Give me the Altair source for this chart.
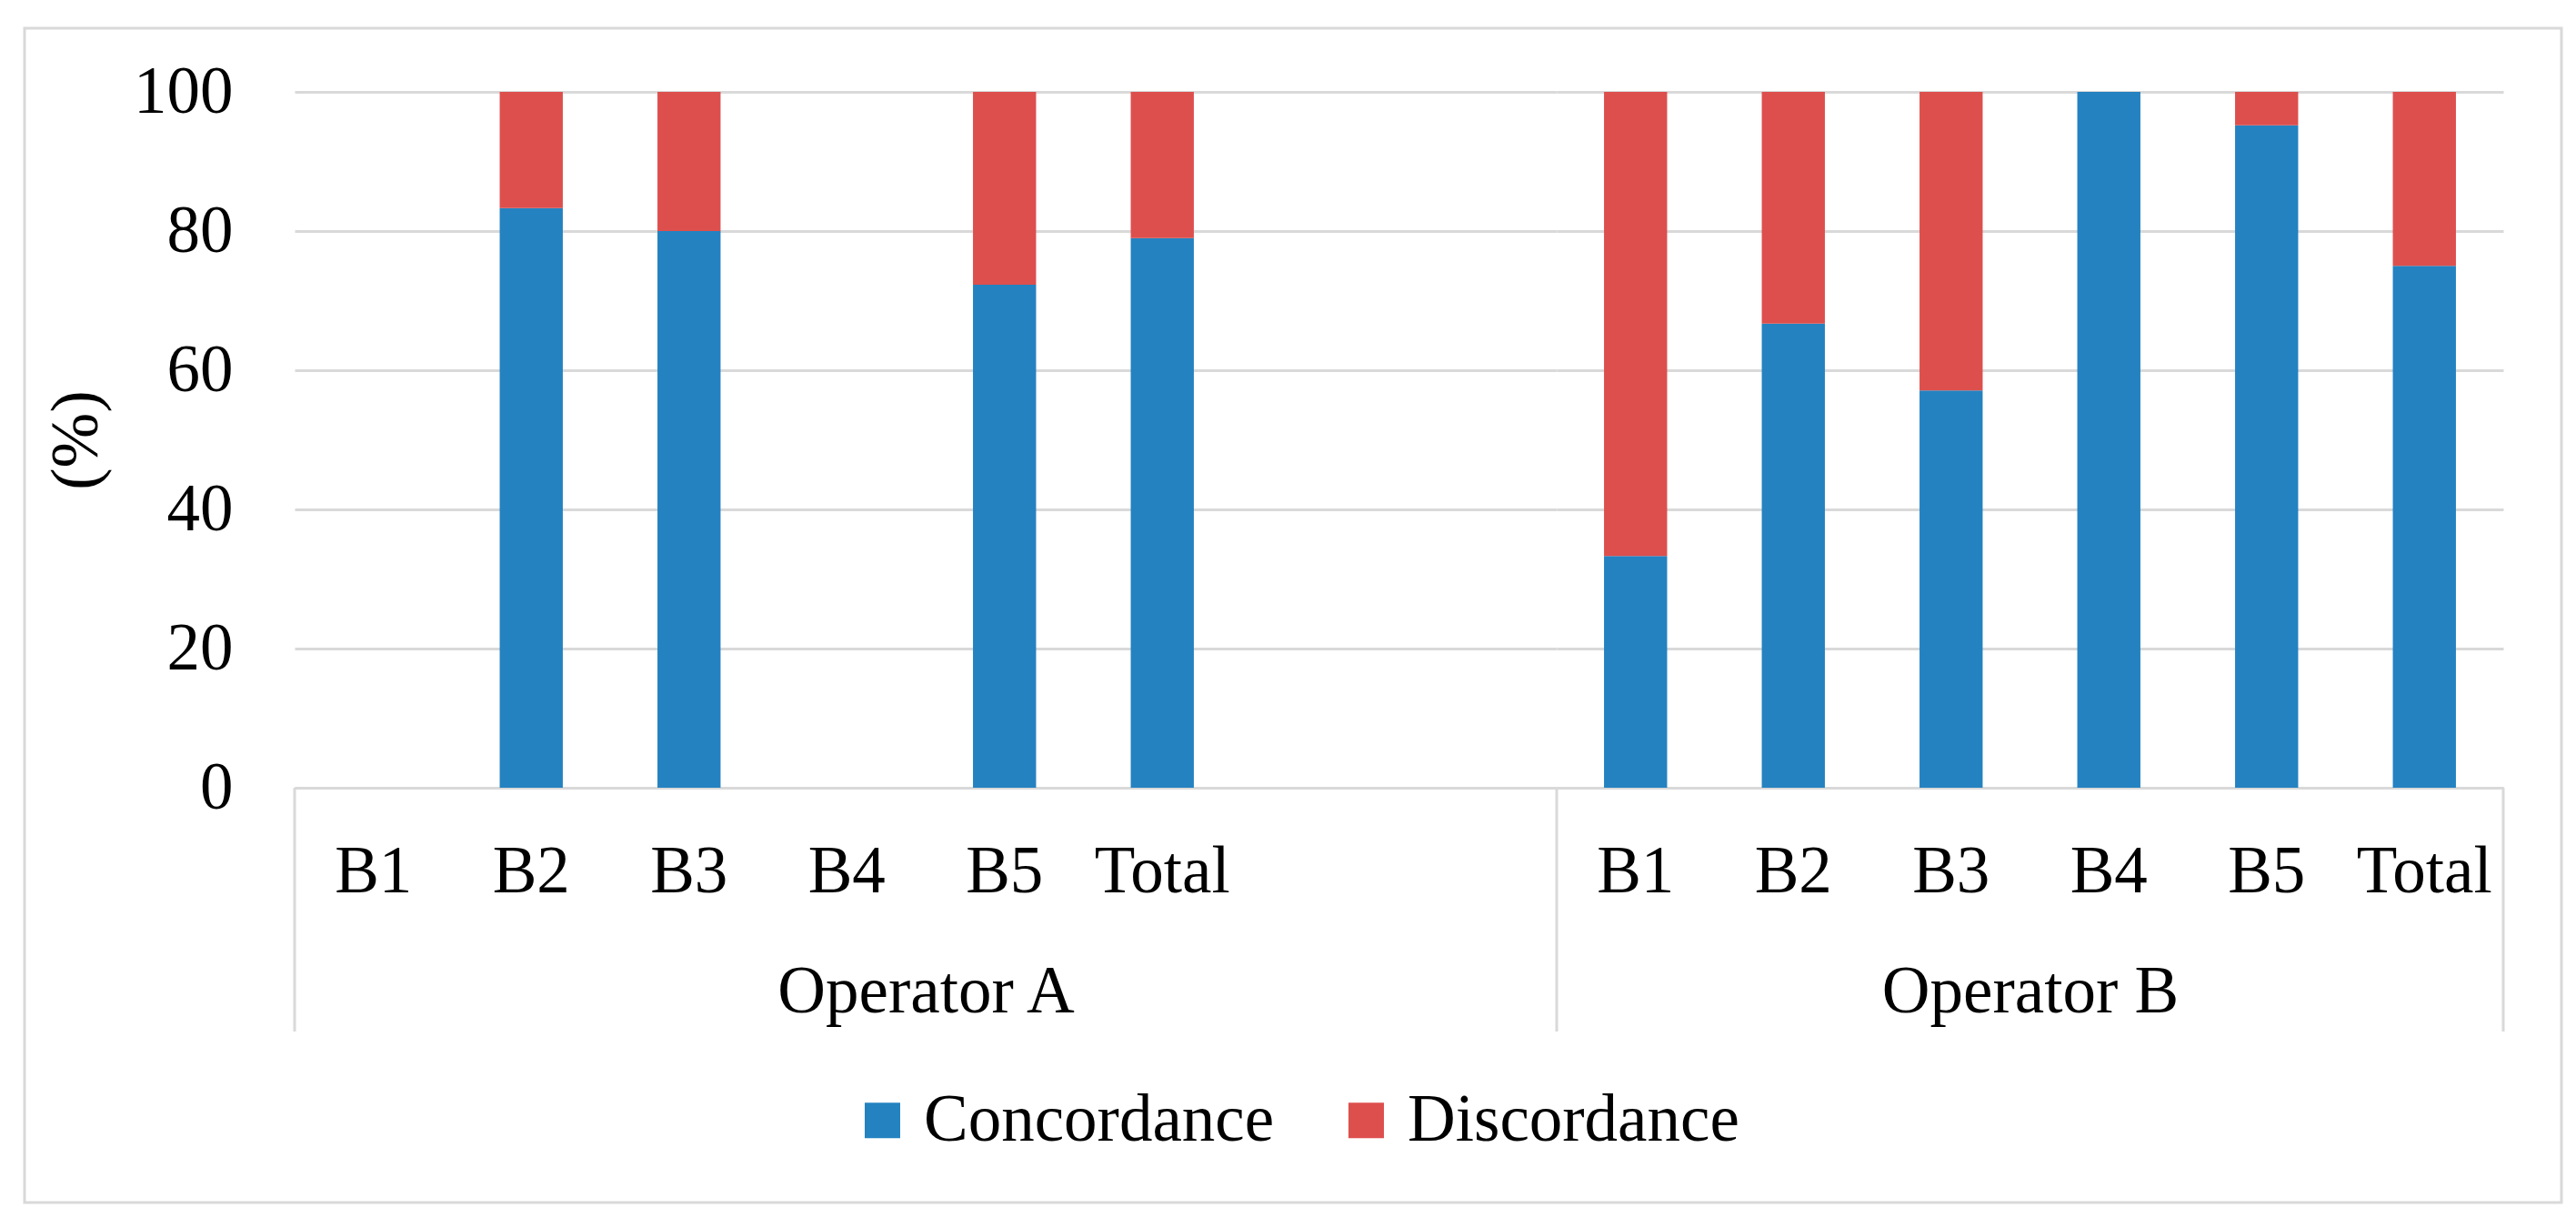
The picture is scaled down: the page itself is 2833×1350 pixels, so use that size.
import altair as alt
import pandas as pd

# ---- data ----
series = ["Concordance", "Discordance"]
colors = ["#2482C0", "#DD4F4D"]

a_cats = ["B1", "B2", "B3", "B4", "B5", "Total"]
a_conc = [None, 83.3, 80.0, None, 72.3, 79.0]
a_disc = [None, 16.7, 20.0, None, 27.7, 21.0]
a_blank = ["_1", "_2"]          # two empty category slots in Operator A

b_cats = ["B1", "B2", "B3", "B4", "B5", "Total"]
b_conc = [33.3, 66.7, 57.1, 100.0, 95.2, 75.0]
b_disc = [66.7, 33.3, 42.9, 0.0, 4.8, 25.0]

y_ticks = [0, 20, 40, 60, 80, 100]

rows = []
for grp, cats, conc, disc in [("Operator A", a_cats, a_conc, a_disc),
                              ("Operator B", b_cats, b_conc, b_disc)]:
    for c, v1, v2 in zip(cats, conc, disc):
        if v1 is not None:
            rows.append({"group": grp, "cat": c, "series": series[0], "sidx": 0, "value": v1})
        if v2 is not None:
            rows.append({"group": grp, "cat": c, "series": series[1], "sidx": 1, "value": v2})
df = pd.DataFrame(rows)

FONT = "Liberation Serif"
FS = 73
STEP = 173.5
H = 765
GRID = "#d9d9d9"

color_enc = alt.Color(
    "series:N",
    scale=alt.Scale(domain=series, range=colors),
    legend=alt.Legend(
        title=None, orient="none", direction="horizontal",
        legendX=610, legendY=1094,
        symbolType="square", symbolSize=1521, symbolStrokeWidth=0,
        labelFontSize=FS, labelFont=FONT, labelColor="#000", labelLimit=0,
        labelOffset=9, columnPadding=64, padding=0,
    ),
)


def panel(group, domain, show_y, right_line):
    d = df[df.group == group]
    w = STEP * len(domain)
    xaxis = alt.Axis(
        title=group, labelAngle=0, ticks=False, grid=False,
        labelExpr="indexof(datum.value, '_') == 0 ? '' : datum.value",
        labelPadding=56, titlePadding=59,
        domainColor=GRID, domainWidth=3,
    )
    if show_y:
        yaxis = alt.Axis(
            title="(%)", values=y_ticks, ticks=False, domain=False,
            grid=True, gridColor=GRID, gridWidth=3,
            labelPadding=68, titlePadding=25,
        )
    else:
        yaxis = alt.Axis(
            title=None, values=y_ticks, ticks=False, domain=False, labels=False,
            grid=True, gridColor=GRID, gridWidth=3,
        )
    bars = alt.Chart(d).mark_bar().encode(
        x=alt.X("cat:N", scale=alt.Scale(domain=domain, paddingInner=0.6, paddingOuter=0.3), axis=xaxis),
        y=alt.Y("value:Q", stack="zero", scale=alt.Scale(domain=[0, 100]), axis=yaxis),
        color=color_enc,
        order=alt.Order("sidx:Q"),
    )
    one = pd.DataFrame({"k": [0]})
    layers = [bars]
    layers.append(alt.Chart(one).mark_rule(color=GRID, strokeWidth=3).encode(
        x=alt.value(0), y=alt.value(H), y2=alt.value(H + 268)))
    if right_line:
        layers.append(alt.Chart(one).mark_rule(color=GRID, strokeWidth=3).encode(
            x=alt.value(w), y=alt.value(H), y2=alt.value(H + 268)))
    if show_y:
        layers.append(alt.Chart(one).mark_rect(fillOpacity=0, stroke=GRID, strokeWidth=3).encode(
            x=alt.value(-297), x2=alt.value(2493), y=alt.value(-70), y2=alt.value(1221)))
    return alt.layer(*layers).properties(width=w, height=H)


left = panel("Operator A", a_cats + a_blank, True, False)
right = panel("Operator B", b_cats, False, True)

chart = (
    alt.hconcat(left, right, spacing=0, bounds="flush")
    .resolve_legend(color="shared")
    .properties(padding={"left": 17, "top": 21, "right": 5, "bottom": 5})
    .configure_view(stroke=None)
    .configure_axis(
        labelFont=FONT, labelFontSize=FS, labelColor="#000",
        titleFont=FONT, titleFontSize=FS, titleColor="#000", titleFontWeight="normal",
    )
)

chart.save("out.html", embed_options={"renderer": "svg", "actions": False})
